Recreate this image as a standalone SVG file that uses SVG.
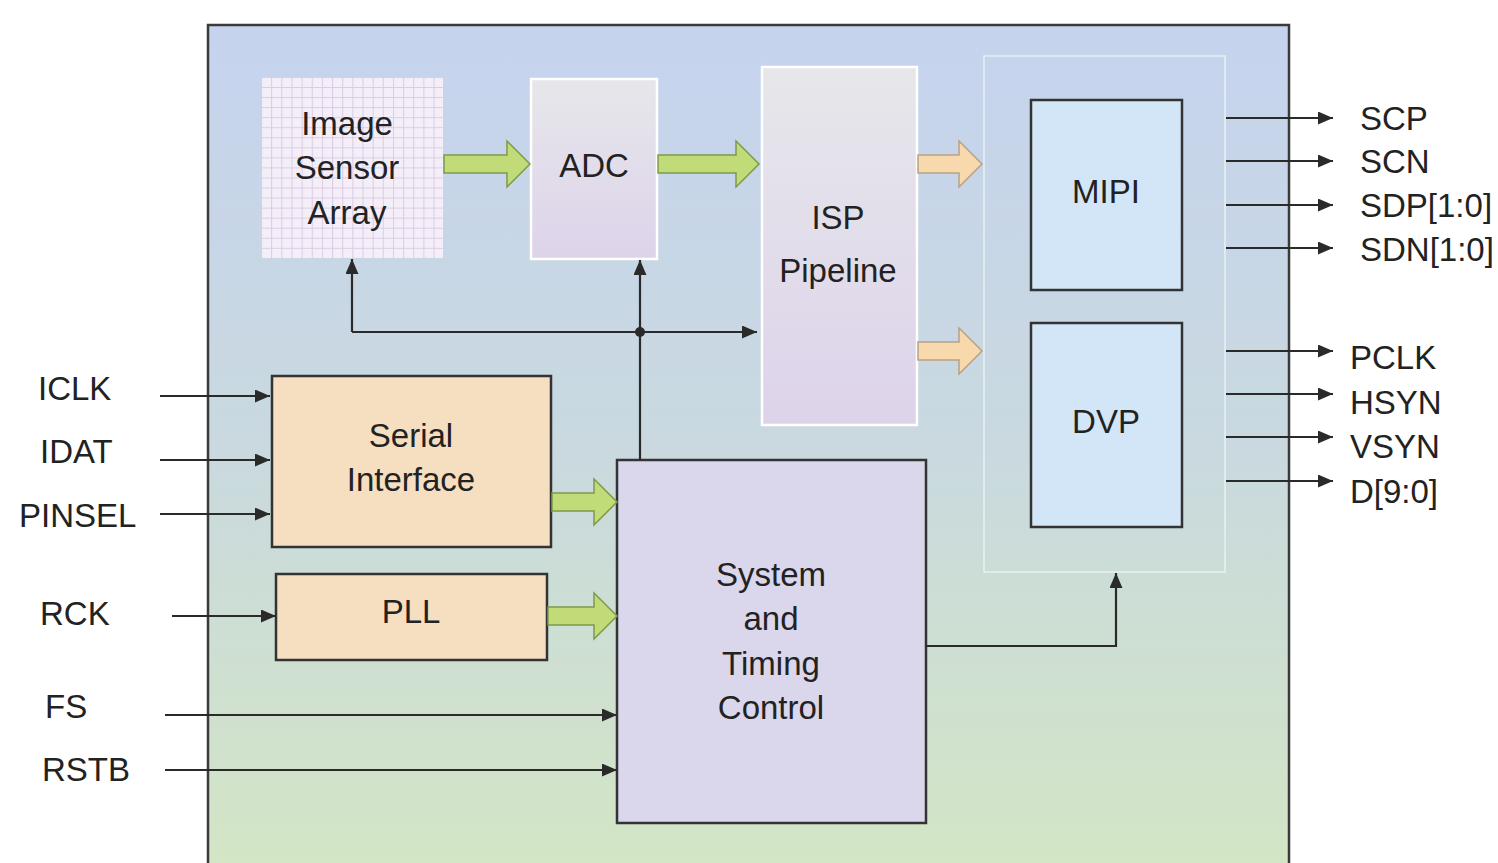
<svg xmlns="http://www.w3.org/2000/svg" width="1498" height="863" viewBox="0 0 1498 863">
<style>
.t{font-family:"Liberation Sans",Arial,sans-serif;font-size:33px;fill:#222;}
.c{text-anchor:middle;}
.box{stroke:#333;stroke-width:2.5;}
.wire{fill:none;stroke:#2a2a2a;stroke-width:2.2;}
.fatg{fill:#c0db78;stroke:#7d9a48;stroke-width:1.5;}
.fato{fill:#f8d9ae;stroke:#b8a184;stroke-width:1.5;}
</style>
<defs>
<linearGradient id="bg" x1="0" y1="0" x2="0" y2="1">
<stop offset="0" stop-color="#c6d3ee"/>
<stop offset="0.5" stop-color="#c9d9df"/>
<stop offset="1" stop-color="#d3e6c4"/>
</linearGradient>
<linearGradient id="pale" x1="0" y1="0" x2="0" y2="1">
<stop offset="0" stop-color="#e7e7ea"/>
<stop offset="1" stop-color="#ddd3ea"/>
</linearGradient>
<pattern id="grid" patternUnits="userSpaceOnUse" x="261" y="77" width="10.15" height="10.05">
<rect width="10.15" height="10.05" fill="#f3eef8"/>
<path d="M0,0.5 H10.15 M0.5,0 V10.05" stroke="#dccbe3" stroke-width="1"/>
</pattern>
<marker id="ah" markerUnits="userSpaceOnUse" markerWidth="15" markerHeight="13" refX="15" refY="6.5" orient="auto">
<path d="M0,0 L15,6.5 L0,13 Z" fill="#2a2a2a"/>
</marker>
</defs>
<rect width="1498" height="863" fill="#ffffff"/>
<g id="chip">
<rect x="208" y="25" width="1081" height="850" fill="url(#bg)" stroke="#3a3a3a" stroke-width="2.5"/>
</g>
<g id="output-block">
<rect x="984" y="56" width="241" height="516" fill="none" stroke="#e9f0f3" stroke-width="1.5"/>
</g>
<g id="image-sensor">
<rect x="261" y="77" width="182" height="181" fill="url(#grid)"/>
<text class="t c" x="347" y="135">Image</text>
<text class="t c" x="347" y="179">Sensor</text>
<text class="t c" x="347" y="224">Array</text>
</g>
<g id="adc">
<rect x="531" y="79" width="126" height="180" fill="url(#pale)" stroke="#ffffff" stroke-width="2.5"/>
<text class="t c" x="594" y="177">ADC</text>
</g>
<g id="isp">
<rect x="762" y="67" width="155" height="358" fill="url(#pale)" stroke="#ffffff" stroke-width="2.5"/>
<text class="t c" x="838" y="229">ISP</text>
<text class="t c" x="838" y="282">Pipeline</text>
</g>
<g id="mipi">
<rect x="1031" y="100" width="151" height="190" fill="#d3e6f8" class="box"/>
<text class="t c" x="1106" y="203">MIPI</text>
</g>
<g id="dvp">
<rect x="1031" y="323" width="151" height="204" fill="#d3e6f8" class="box"/>
<text class="t c" x="1106" y="433">DVP</text>
</g>
<g id="serial-interface">
<rect x="272" y="376" width="279" height="171" fill="#f6dfc1" class="box"/>
<text class="t c" x="411" y="447">Serial</text>
<text class="t c" x="411" y="491">Interface</text>
</g>
<g id="pll">
<rect x="276" y="574" width="271" height="86" fill="#f6dfc1" class="box"/>
<text class="t c" x="411" y="623">PLL</text>
</g>
<g id="system-timing-control">
<rect x="617" y="460" width="309" height="363" fill="#dad6ec" class="box"/>
<text class="t c" x="771" y="586">System</text>
<text class="t c" x="771" y="630">and</text>
<text class="t c" x="771" y="675">Timing</text>
<text class="t c" x="771" y="719">Control</text>
</g>
<g id="labels">
<text class="t" x="38" y="400">ICLK</text>
<text class="t" x="40" y="463">IDAT</text>
<text class="t" x="19" y="527">PINSEL</text>
<text class="t" x="40" y="625">RCK</text>
<text class="t" x="45" y="718">FS</text>
<text class="t" x="42" y="781">RSTB</text>
<text class="t" x="1360" y="130">SCP</text>
<text class="t" x="1360" y="173">SCN</text>
<text class="t" x="1360" y="217">SDP[1:0]</text>
<text class="t" x="1360" y="261">SDN[1:0]</text>
<text class="t" x="1350" y="369">PCLK</text>
<text class="t" x="1350" y="414">HSYN</text>
<text class="t" x="1350" y="458">VSYN</text>
<text class="t" x="1350" y="503">D[9:0]</text>
</g>
<g id="connectors">
<path class="fatg" d="M444,155 H507 V141 L530,164 L507,187 V173 H444 Z"/>
<path class="fatg" d="M658,155 H736 V141 L759,164 L736,187 V173 H658 Z"/>
<path class="fato" d="M918,155 H959 V141 L982,164 L959,187 V173 H918 Z"/>
<path class="fato" d="M918,342 H959 V328 L982,351 L959,374 V360 H918 Z"/>
<path class="fatg" d="M552,493 H594 V479 L617,502 L594,525 V511 H552 Z"/>
<path class="fatg" d="M548,607 H594 V593 L617,616 L594,639 V625 H548 Z"/>
<path class="wire" d="M640,460 V260" marker-end="url(#ah)"/>
<path class="wire" d="M352,332 H757" marker-end="url(#ah)"/>
<path class="wire" d="M352,332 V259" marker-end="url(#ah)"/>
<circle cx="640" cy="332" r="5" fill="#2a2a2a"/>
<path class="wire" d="M926,646 H1116 V573" marker-end="url(#ah)"/>
<path class="wire" d="M160,396 H270" marker-end="url(#ah)"/>
<path class="wire" d="M160,460 H270" marker-end="url(#ah)"/>
<path class="wire" d="M160,514 H270" marker-end="url(#ah)"/>
<path class="wire" d="M172,616 H276" marker-end="url(#ah)"/>
<path class="wire" d="M165,715 H617" marker-end="url(#ah)"/>
<path class="wire" d="M165,770 H617" marker-end="url(#ah)"/>
<path class="wire" d="M1226,118 H1333" marker-end="url(#ah)"/>
<path class="wire" d="M1226,161 H1333" marker-end="url(#ah)"/>
<path class="wire" d="M1226,205 H1333" marker-end="url(#ah)"/>
<path class="wire" d="M1226,248 H1333" marker-end="url(#ah)"/>
<path class="wire" d="M1226,351 H1333" marker-end="url(#ah)"/>
<path class="wire" d="M1226,394 H1333" marker-end="url(#ah)"/>
<path class="wire" d="M1226,437 H1333" marker-end="url(#ah)"/>
<path class="wire" d="M1226,481 H1333" marker-end="url(#ah)"/>
</g>
</svg>
